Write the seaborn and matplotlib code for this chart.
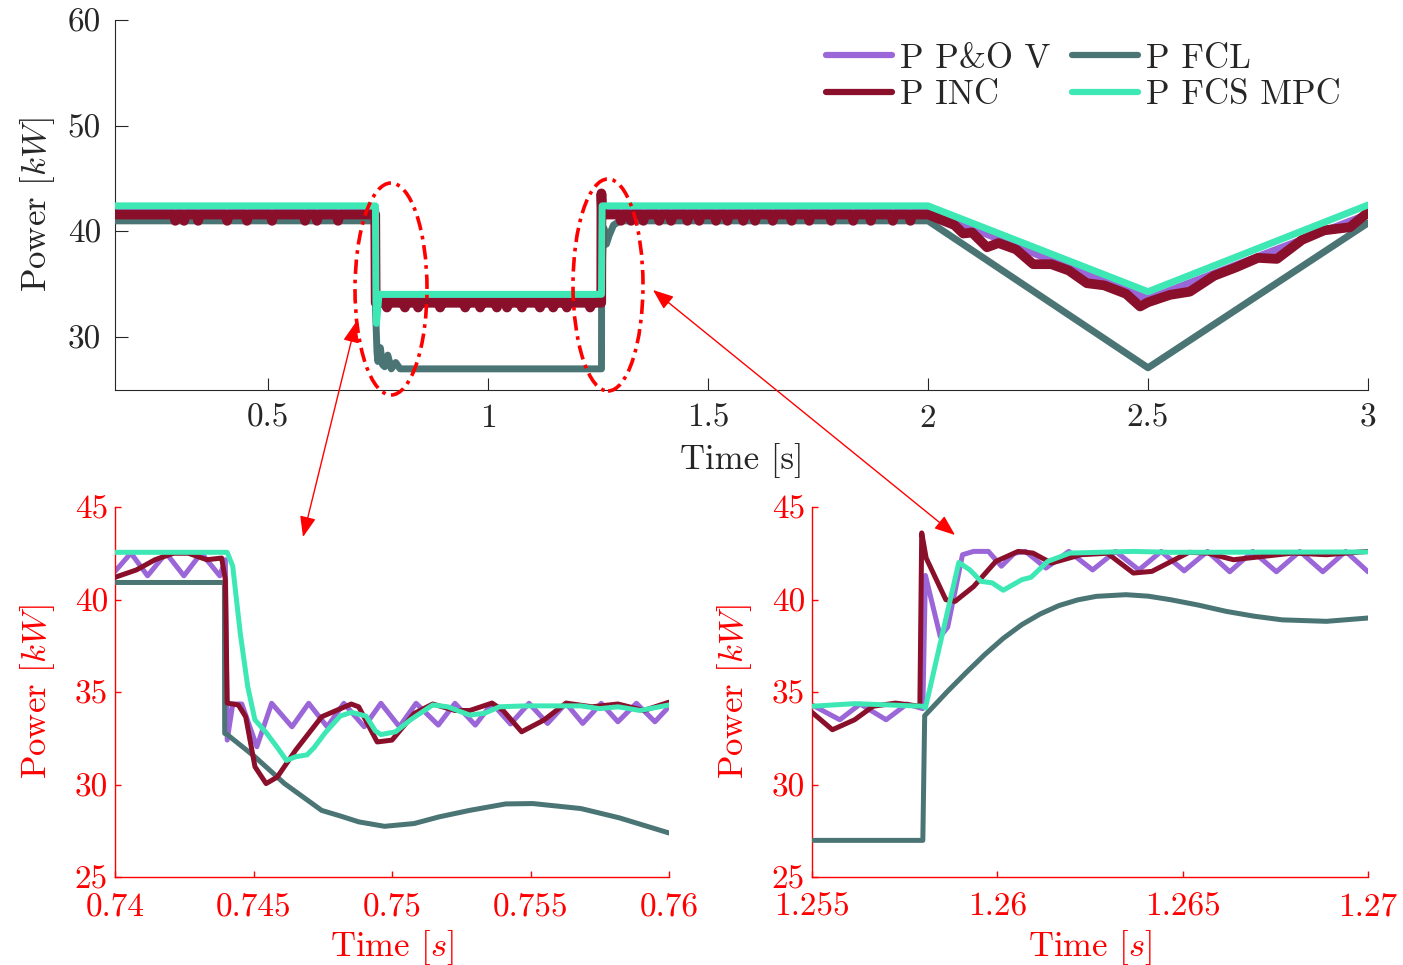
import numpy as np
import pandas as pd
import matplotlib
matplotlib.use('Agg')
import matplotlib.pyplot as plt
import seaborn as sns
from matplotlib.patches import Ellipse, FancyArrowPatch
from matplotlib.lines import Line2D
from matplotlib.ticker import FuncFormatter

# ---------------- data ----------------
LABELS = ['P P&O V', 'P INC', 'P FCL', 'P FCS MPC']
COLORS = {'PO': '#9b66d8', 'INC': '#8a0f2b', 'FCL': '#4b7575', 'MPC': '#3ee8b5'}

# Overview (top) traces
PO_TOP_T = [0.152, 0.7439, 0.7441, 1.2579, 1.2592, 2.0, 2.5, 3.0]
PO_TOP_P = [42.0, 42.0, 33.8, 33.8, 42.0, 42.0, 33.6, 41.6]

FCL_TOP_T = [0.152, 0.7439, 0.7440, 0.7475, 0.7495, 0.755, 0.76, 0.765, 0.772, 0.78, 0.79, 0.80,
             1.2578, 1.2580, 1.2617, 1.2635, 1.2689, 1.275, 1.285, 1.30, 2.0, 2.5, 3.0]
FCL_TOP_P = [41.0, 41.0, 32.8, 28.6, 27.7, 29.0, 27.4, 27.2, 28.3, 27.0, 27.6, 27.0,
             27.0, 33.7, 39.7, 40.3, 38.8, 39.6, 40.6, 41.0, 41.0, 27.1, 40.8]

MPC_TOP_T = [0.152, 0.7440, 0.7450, 0.7463, 0.7500, 0.7520, 1.2578, 1.2592, 2.0, 2.5, 3.0]
MPC_TOP_P = [42.42, 42.42, 33.5, 31.3, 33.0, 34.05, 34.05, 42.42, 42.42, 34.3, 42.5]

# INC overview: flat levels with the visible downward dips
INC_HI1_DIPS = [0.289, 0.309, 0.341, 0.407, 0.452, 0.509, 0.584, 0.611, 0.659]
INC_LO_DIPS = [0.770, 0.811, 0.841, 0.891, 0.948, 0.982, 1.020, 1.043, 1.077, 1.118, 1.148, 1.179, 1.232]
INC_HI2_DIPS = [1.302, 1.325, 1.353, 1.389, 1.416, 1.453, 1.480, 1.518, 1.544, 1.580, 1.607, 1.647,
                1.690, 1.730, 1.780, 1.830, 1.870, 1.920, 1.960]
INC_HI_LEVEL, INC_HI_DIP = 41.6, 41.0
INC_LO_LEVEL, INC_LO_DIP = 33.25, 32.8
INC_RAMP_T = [2.0, 2.06, 2.08, 2.10, 2.134, 2.16, 2.20, 2.239, 2.28, 2.32, 2.361, 2.40, 2.45, 2.482, 2.5,
              2.55, 2.595, 2.65, 2.70, 2.75, 2.793, 2.85, 2.90, 2.959, 3.0]
INC_RAMP_P = [41.6, 40.6, 39.8, 39.9, 38.5, 38.9, 38.3, 36.9, 36.9, 36.3, 35.1, 34.9, 34.1, 32.9, 33.3,
              34.0, 34.3, 35.8, 36.6, 37.5, 37.4, 39.2, 40.1, 40.4, 41.8]

# Zoom 1: 0.74 - 0.76 s
PO_Z1_T = [0.7400, 0.740575, 0.741176, 0.741845, 0.742487, 0.743115, 0.743783, 0.743984, 0.744051,
           0.744251, 0.74458, 0.74512, 0.745655, 0.74639, 0.746992, 0.74766, 0.748262, 0.748997,
           0.749599, 0.750267, 0.750869, 0.751671, 0.752273, 0.753008, 0.75361, 0.754278, 0.754947,
           0.755615, 0.756283, 0.756885, 0.757553, 0.758155, 0.758824, 0.759492, 0.7600]
PO_Z1_P = [41.52, 42.51, 41.28, 42.51, 41.28, 42.51, 41.28, 42.15, 32.40,
           34.35, 34.35, 32.04, 34.39, 33.12, 34.39, 33.12, 34.39, 33.12,
           34.39, 33.12, 34.39, 33.21, 34.39, 33.21, 34.39, 33.27, 34.39,
           33.30, 34.39, 33.30, 34.39, 33.39, 34.39, 33.39, 34.21]

INC_Z1_T = [0.7400, 0.740775, 0.741444, 0.742112, 0.742647, 0.743316, 0.74385, 0.743984, 0.744051,
            0.744452, 0.744719, 0.745053, 0.745455, 0.745856, 0.746524, 0.74746, 0.748529, 0.748797,
            0.749465, 0.7500, 0.750802, 0.751471, 0.752273, 0.752807, 0.75361, 0.754011, 0.754679,
            0.755481, 0.756283, 0.757219, 0.758155, 0.759091, 0.7600]
INC_Z1_P = [41.2, 41.6, 42.15, 42.5, 42.5, 42.15, 42.24, 41.07, 34.4,
            34.3, 33.66, 30.96, 30.05, 30.4, 31.86, 33.66, 34.35, 34.2,
            32.3, 32.4, 33.84, 34.35, 34.0, 34.0, 34.4, 34.0, 32.85,
            33.48, 34.4, 34.2, 34.35, 34.0, 34.45]

FCL_Z1_T = [0.7400, 0.74395, 0.74396, 0.74405, 0.74505, 0.74612, 0.74746, 0.74813, 0.7488, 0.74973,
            0.7508, 0.7517, 0.7528, 0.7541, 0.75508, 0.75682, 0.7582, 0.7600]
FCL_Z1_P = [40.92, 40.92, 32.76, 32.70, 31.5, 30.05, 28.6, 28.3, 27.98, 27.74,
            27.89, 28.25, 28.6, 28.95, 28.97, 28.7, 28.2, 27.38]

MPC_Z1_T = [0.7400, 0.74405, 0.74425, 0.74452, 0.74479, 0.74505, 0.74546, 0.74586, 0.74619, 0.74652,
            0.74693, 0.74719, 0.74759, 0.74813, 0.74853, 0.74906, 0.74940, 0.74960, 0.75013, 0.75067,
            0.75147, 0.75201, 0.75281, 0.75334, 0.75388, 0.75481, 0.75575, 0.75682, 0.75749, 0.75816,
            0.75896, 0.7600]
MPC_Z1_P = [42.55, 42.55, 41.8, 38.2, 35.3, 33.5, 32.8, 32.0, 31.3, 31.5,
            31.6, 32.0, 32.8, 33.7, 33.9, 33.7, 32.9, 32.7, 32.85, 33.5,
            34.3, 34.2, 33.75, 33.85, 34.2, 34.25, 34.25, 34.25, 34.1, 34.2,
            34.0, 34.3]

# Zoom 2: 1.255 - 1.27 s
PO_Z2_T = [1.2550, 1.25575, 1.25630, 1.25700, 1.25756, 1.25799, 1.25806, 1.25846, 1.25866, 1.25906,
           1.25936, 1.25976, 1.26011, 1.26046, 1.26076, 1.26131, 1.26193, 1.26257, 1.26319, 1.26382,
           1.26442, 1.26504, 1.26567, 1.26627, 1.26689, 1.26753, 1.26816, 1.26878, 1.2694, 1.2700]
PO_Z2_P = [34.3, 33.5, 34.35, 33.5, 34.35, 34.1, 41.3, 38.0, 38.5, 42.42,
           42.6, 42.6, 41.8, 42.5, 42.6, 41.7, 42.6, 41.6, 42.6, 41.6,
           42.6, 41.55, 42.6, 41.5, 42.6, 41.5, 42.6, 41.5, 42.6, 41.5]

INC_Z2_T = [1.2550, 1.25555, 1.25615, 1.25665, 1.25725, 1.25791, 1.25796, 1.25808, 1.25861, 1.25886,
            1.25936, 1.25996, 1.26056, 1.26096, 1.26146, 1.26226, 1.26297, 1.26367, 1.26417, 1.26517,
            1.26567, 1.26637, 1.26717, 1.26798, 1.26888, 1.2700]
INC_Z2_P = [33.9, 32.96, 33.5, 34.23, 34.4, 34.23, 43.6, 42.24, 39.99, 39.9,
            40.7, 42.06, 42.6, 42.51, 41.97, 42.42, 42.5, 41.43, 41.52, 42.55,
            42.51, 42.15, 42.33, 42.51, 42.42, 42.6]

FCL_Z2_T = [1.2550, 1.25799, 1.25804, 1.25866, 1.25916, 1.25966, 1.26016, 1.26066, 1.26116, 1.26166,
            1.26217, 1.26267, 1.26347, 1.26407, 1.26467, 1.26542, 1.26617, 1.26692, 1.26768, 1.26888, 1.2700]
FCL_Z2_P = [26.98, 26.98, 33.72, 35.04, 36.05, 37.02, 37.9, 38.64, 39.22, 39.67,
            39.98, 40.17, 40.26, 40.18, 39.99, 39.70, 39.36, 39.1, 38.9, 38.82, 39.0]

MPC_Z2_T = [1.2550, 1.25615, 1.25799, 1.25806, 1.25896, 1.25926, 1.25956, 1.25986, 1.26016, 1.26066,
            1.26091, 1.26136, 1.26196, 1.26367, 1.26467, 1.2700]
MPC_Z2_P = [34.23, 34.37, 34.23, 34.14, 42.0, 41.6, 40.98, 40.9, 40.5, 41.07,
            41.2, 42.06, 42.51, 42.6, 42.55, 42.57]

TOP_XTICKS = [0.5, 1, 1.5, 2, 2.5, 3]
TOP_YTICKS = [30, 40, 50, 60]
Z_YTICKS = [25, 30, 35, 40, 45]
Z1_XTICKS = [0.74, 0.745, 0.75, 0.755, 0.76]
Z2_XTICKS = [1.255, 1.26, 1.265, 1.27]


def flat_with_dips(t0, t1, level, dip, dips, half=0.004):
    t, p = [t0], [level]
    for d in dips:
        t += [d - half, d, d + half]
        p += [level, dip, level]
    t.append(t1)
    p.append(level)
    return t, p


a_t, a_p = flat_with_dips(0.152, 0.7435, INC_HI_LEVEL, INC_HI_DIP, INC_HI1_DIPS)
b_t, b_p = flat_with_dips(0.7445, 1.2572, INC_LO_LEVEL, INC_LO_DIP, INC_LO_DIPS)
c_t, c_p = flat_with_dips(1.2590, 2.0, INC_HI_LEVEL, INC_HI_DIP, INC_HI2_DIPS)
INC_TOP_T = a_t + [0.7440] + b_t + [1.2576] + c_t + INC_RAMP_T[1:]
INC_TOP_P = a_p + [37.0] + b_p + [43.6] + c_p + INC_RAMP_P[1:]

# ---------------- style ----------------
sns.set_style('ticks')
plt.rcParams['font.family'] = ['cmr10', 'DejaVu Serif']
plt.rcParams['mathtext.fontset'] = 'cm'
plt.rcParams['axes.formatter.use_mathtext'] = True
plt.rcParams['axes.unicode_minus'] = False

W, H = 1403, 965
fig = plt.figure(figsize=(W / 100, H / 100), dpi=100)


def rect(l, t, r, b):
    return [l / W, 1 - b / H, (r - l) / W, (b - t) / H]


ax = fig.add_axes(rect(115, 20, 1368, 390))
ax1 = fig.add_axes(rect(115, 507, 669, 877))
ax2 = fig.add_axes(rect(812, 507, 1368, 877))


def draw(a, t, p, color, lw, z):
    df = pd.DataFrame({'t': t, 'p': p})
    sns.lineplot(data=df, x='t', y='p', ax=a, color=color, lw=lw, sort=False,
                 estimator=None, zorder=z, legend=False,
                 solid_joinstyle='round', solid_capstyle='round')


# top
draw(ax, PO_TOP_T, PO_TOP_P, COLORS['PO'], 5.5, 2)
draw(ax, FCL_TOP_T, FCL_TOP_P, COLORS['FCL'], 5.0, 3)
draw(ax, INC_TOP_T, INC_TOP_P, COLORS['INC'], 7.0, 4)
draw(ax, MPC_TOP_T, MPC_TOP_P, COLORS['MPC'], 5.0, 5)

# zooms
for a, (pt, pp, it, ip, ft, fp, mt, mp) in [
        (ax1, (PO_Z1_T, PO_Z1_P, INC_Z1_T, INC_Z1_P, FCL_Z1_T, FCL_Z1_P, MPC_Z1_T, MPC_Z1_P)),
        (ax2, (PO_Z2_T, PO_Z2_P, INC_Z2_T, INC_Z2_P, FCL_Z2_T, FCL_Z2_P, MPC_Z2_T, MPC_Z2_P))]:
    draw(a, pt, pp, COLORS['PO'], 3.6, 2)
    draw(a, ft, fp, COLORS['FCL'], 3.6, 3)
    draw(a, it, ip, COLORS['INC'], 3.6, 4)
    draw(a, mt, mp, COLORS['MPC'], 3.6, 5)

fmt = FuncFormatter(lambda v, pos: f'{v:g}')

# top axes formatting
ax.set_xlim(0.152, 3.0)
ax.set_ylim(25, 60)
ax.set_xticks(TOP_XTICKS)
ax.set_yticks(TOP_YTICKS)
ax.xaxis.set_major_formatter(fmt)
ax.yaxis.set_major_formatter(fmt)
for s in ['top', 'right']:
    ax.spines[s].set_visible(False)
for s in ['left', 'bottom']:
    ax.spines[s].set_color('#262626')
    ax.spines[s].set_linewidth(0.8)
ax.tick_params(direction='in', length=9, width=0.8, colors='#262626', labelsize=24, pad=10)
ax.set_xlabel('Time [s]', fontsize=25, color='#262626', labelpad=7)
ax.set_ylabel('Power [$kW$]', fontsize=25, color='#262626', labelpad=8)

handles = [Line2D([], [], color=COLORS[k], lw=4.5) for k in ['PO', 'INC', 'FCL', 'MPC']]
fig.legend(handles, LABELS, ncol=2, loc='upper right', bbox_to_anchor=(1341 / W, 1 - 43 / H),
           bbox_transform=fig.transFigure, frameon=False, fontsize=25, handlelength=1.9,
           handletextpad=0.25, columnspacing=0.6, labelspacing=0.15, borderpad=0, borderaxespad=0)

for a, xt, xl in [(ax1, Z1_XTICKS, (0.74, 0.76)), (ax2, Z2_XTICKS, (1.255, 1.27))]:
    a.set_xlim(*xl)
    a.set_ylim(25, 45)
    a.set_xticks(xt)
    a.set_yticks(Z_YTICKS)
    a.xaxis.set_major_formatter(fmt)
    a.yaxis.set_major_formatter(fmt)
    for s in ['top', 'right']:
        a.spines[s].set_visible(False)
    for s in ['left', 'bottom']:
        a.spines[s].set_color('red')
        a.spines[s].set_linewidth(1.0)
    a.tick_params(direction='in', length=4.5, width=1.0, colors='red', labelsize=24, pad=5)
    a.tick_params(axis='x', pad=11)
    a.set_xlabel('Time [$s$]', fontsize=25, color='red', labelpad=5)
    a.set_ylabel('Power [$kW$]', fontsize=25, color='red', labelpad=13)

# annotations (figure pixel coords)
def fx(x):
    return x / W


def fy(y):
    return 1 - y / H


for cx, cy, w, h in [(391, 289, 72, 212), (608, 285, 70, 212)]:
    e = Ellipse((fx(cx), fy(cy)), w / W, h / H, transform=fig.transFigure, fill=False,
                edgecolor='red', lw=2.6, linestyle=(0, (4, 1.6, 1, 1.6)), zorder=10)
    fig.add_artist(e)

for (x0, y0), (x1, y1) in [((303, 537), (356, 322)), ((653, 290), (955, 535))]:
    arr = FancyArrowPatch((fx(x0), fy(y0)), (fx(x1), fy(y1)), transform=fig.transFigure,
                          arrowstyle='<|-|>,head_length=0.9,head_width=0.35', mutation_scale=14,
                          color='red', lw=1.0, shrinkA=0, shrinkB=0, zorder=10)
    fig.add_artist(arr)

fig.savefig('out.png', dpi=100)
